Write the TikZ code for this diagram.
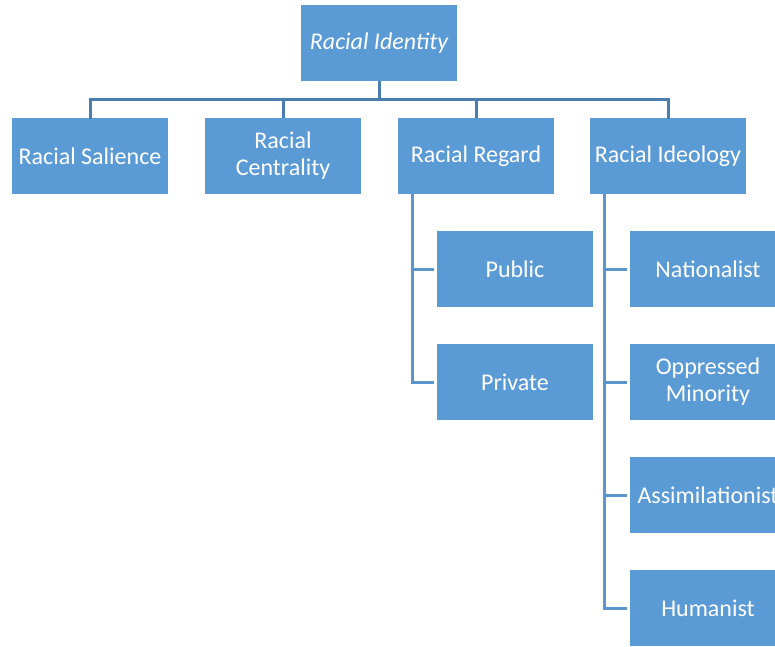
\documentclass[tikz,border=0pt]{standalone}
\usepackage{fontspec}
\setmainfont{Carlito}
\definecolor{boxfill}{HTML}{5B9BD5}
\definecolor{linkdark}{HTML}{4A7EB1}
\definecolor{linklight}{HTML}{5B96CF}
\begin{document}
\begin{tikzpicture}[x=1pt,y=-1pt,
  box/.style={fill=boxfill, draw=none, text=white, minimum width=156pt, minimum height=76pt,
    inner sep=2pt, align=center, font=\fontsize{24}{27}\selectfont},
  toplink/.style={draw=linkdark, line width=3pt},
  sublink/.style={draw=linklight, line width=3pt}]
\useasboundingbox (0,0) rectangle (775,646);
\clip (0,0) rectangle (775,646);

% root and first level
\node[box] (ri) at (379,43) {\itshape Racial Identity};
\node[box] (rs) at (90,156) {Racial Salience};
\node[box] (rc) at (283,156) {Racial\\Centrality};
\node[box] (rr) at (476,156) {Racial Regard};
\node[box] (rid) at (668,156) {Racial Ideology};

% regard children
\node[box] (pub) at (515,269) {Public};
\node[box] (pri) at (515,382) {Private};

% ideology children
\node[box] (nat) at (708,269) {Nationalist};
\node[box] (opp) at (708,382) {Oppressed\\Minority};
\node[box] (ass) at (708,495) {Assimilationist};
\node[box] (hum) at (708,608) {Humanist};

% bus below the root
\coordinate (bus) at (0,99.5);
\draw[toplink] (ri.south) -- (ri.south |- bus);
\draw[toplink, line cap=rect] (rs.north) -- (rs.north |- bus) -- (rid.north |- bus) -- (rid.north);
\draw[toplink] (rc.north) -- (rc.north |- bus);
\draw[toplink] (rr.north) -- (rr.north |- bus);

% trunk for racial regard
\coordinate (trR) at (412,0);
\draw[sublink] (rr.south -| trR) |- ([xshift=-3pt]pri.west);
\draw[sublink] (trR |- pub.west) -- ([xshift=-3pt]pub.west);

% trunk for racial ideology
\coordinate (trI) at (604.5,0);
\draw[sublink] (rid.south -| trI) |- ([xshift=-3pt]hum.west);
\draw[sublink] (trI |- nat.west) -- ([xshift=-3pt]nat.west);
\draw[sublink] (trI |- opp.west) -- ([xshift=-3pt]opp.west);
\draw[sublink] (trI |- ass.west) -- ([xshift=-3pt]ass.west);
\end{tikzpicture}
\end{document}
